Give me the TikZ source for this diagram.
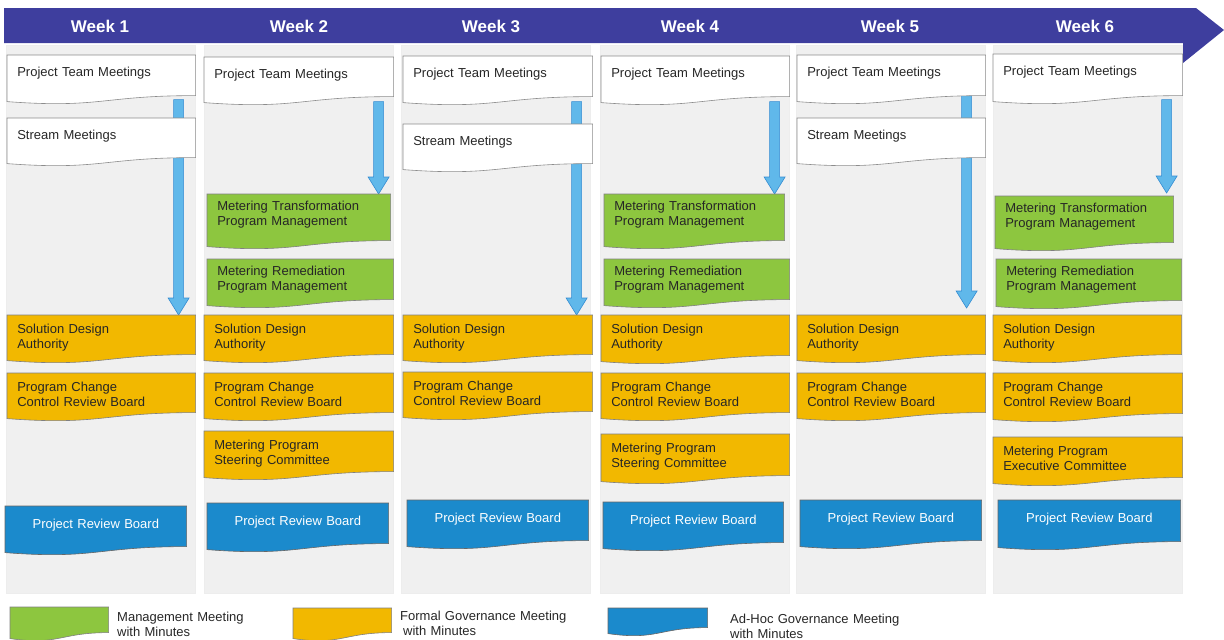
\documentclass[tikz,border=0pt]{standalone}
\usepackage{fontspec}
\setmainfont{Liberation Sans}
\usetikzlibrary{calc}

\definecolor{bannerblue}{RGB}{62,62,158}
\definecolor{colgrey}{RGB}{240,240,240}
\definecolor{mgmtgreen}{RGB}{141,198,63}
\definecolor{formalgold}{RGB}{242,184,0}
\definecolor{adhocblue}{RGB}{27,138,204}
\definecolor{flowblue}{RGB}{96,184,234}
\definecolor{flowedge}{RGB}{52,140,210}

\newcommand{\boxfont}{\fontsize{13}{15}\selectfont}
\newcommand{\weekfont}{\fontsize{17}{20}\selectfont\bfseries}

\pgfdeclarelayer{cols}
\pgfdeclarelayer{flows}
\pgfsetlayers{cols,flows,main}

% flowchart "document" box: rectangle with a wavy bottom edge
\makeatletter
\pgfdeclareshape{document}{
  \inheritsavedanchors[from=rectangle]
  \inheritanchorborder[from=rectangle]
  \inheritanchor[from=rectangle]{center}
  \inheritanchor[from=rectangle]{north}
  \inheritanchor[from=rectangle]{south}
  \inheritanchor[from=rectangle]{east}
  \inheritanchor[from=rectangle]{west}
  \inheritanchor[from=rectangle]{north east}
  \inheritanchor[from=rectangle]{north west}
  \inheritanchor[from=rectangle]{south east}
  \inheritanchor[from=rectangle]{south west}
  \inheritanchor[from=rectangle]{mid}
  \inheritanchor[from=rectangle]{base}
  \backgroundpath{%
    \southwest \edef\doc@xl{\the\pgf@x}\edef\doc@yb{\the\pgf@y}%
    \northeast \edef\doc@xr{\the\pgf@x}\edef\doc@yt{\the\pgf@y}%
    \pgf@xc=\doc@xl \advance\pgf@xc by \doc@xr \divide\pgf@xc by 2
    \edef\doc@xm{\the\pgf@xc}%
    \pgf@yc=\doc@yb \advance\pgf@yc by -13pt \edef\doc@yw{\the\pgf@yc}%
    \pgf@yc=\doc@yb \advance\pgf@yc by -6pt \edef\doc@yl{\the\pgf@yc}%
    \pgfpathmoveto{\pgfqpoint{\doc@xl}{\doc@yt}}%
    \pgfpathlineto{\pgfqpoint{\doc@xr}{\doc@yt}}%
    \pgfpathlineto{\pgfqpoint{\doc@xr}{\doc@yb}}%
    \pgfpathcurveto{\pgfqpoint{\doc@xm}{\doc@yb}}{\pgfqpoint{\doc@xm}{\doc@yw}}{\pgfqpoint{\doc@xl}{\doc@yl}}%
    \pgfpathclose
  }
}
\makeatother

\begin{document}
\begin{tikzpicture}[x=1pt, y=-1pt,
    box top/.initial=18,
    meet/.style={shape=document, anchor=north west, inner xsep=10pt, inner ysep=0pt,
      align=left, font=\boxfont, line width=0.6pt, text=black!85,
      text height=\pgfkeysvalueof{/tikz/box top}pt},
    box w/.code={\pgfmathsetmacro\boxtw{#1-20}\tikzset{minimum width=#1pt, text width/.expanded=\boxtw pt}},
    box h/.code={\pgfmathsetmacro\boxdp{#1-\pgfkeysvalueof{/tikz/box top}}\tikzset{text depth/.expanded=\boxdp pt}},
    plain/.style={meet, box top=21, fill=white, draw=black!45},
    mgmt/.style={meet, box top=16, fill=mgmtgreen, draw=black!50},
    formal/.style={meet, fill=formalgold, draw=black!50},
    adhoc/.style={meet, box top=22, fill=adhocblue, draw=black!60, text=white, align=center},
    week/.style={text=white, font=\weekfont, inner sep=0pt},
    legend/.style={anchor=north west, inner sep=0pt, font=\boxfont, align=left,
      text width=200pt, text height=10pt, text=black!85},
    flow/.style={fill=flowblue, draw=flowedge, line width=0.6pt,
      to path={let \p1=(\tikztostart), \p2=(\tikztotarget) in
        (\x1-5pt,\y1) -- (\x1+5pt,\y1) -- (\x1+5pt,\y2+17pt) -- (\x1+10.5pt,\y2+17pt)
        -- (\x1,\y2) -- (\x1-10.5pt,\y2+17pt) -- (\x1-5pt,\y2+17pt) -- cycle}}]

\useasboundingbox (0,0) rectangle (1224,640);

% one grey column per week
\begin{pgfonlayer}{cols}
\foreach \x in {6,204,401,600,796,993}
  \filldraw[fill=colgrey, draw=black!7] (\x,45) rectangle ++(189,548);
\end{pgfonlayer}

% timeline banner
\fill[bannerblue] (4,8) -- (1196,8) -- (1224,30) -- (1183,63) -- (1183,43) -- (4,43) -- cycle;
\foreach \x/\n in {100/1,299/2,491/3,690/4,890/5,1085/6}
  \node[week] (week\n) at (\x,26) {Week \n};

% week 1
\node[plain, box w=188, box h=40] (ptm1) at (7,55) {Project Team Meetings};
\node[plain, box w=188, box h=39] (sm1) at (7,118) {Stream Meetings};
\node[formal, box w=188, box h=39] (sda1) at (7,315) {Solution Design\\Authority};
\node[formal, box w=188, box h=39] (pcc1) at (7,373) {Program Change\\Control Review Board};
\node[adhoc, box w=181, box h=40] (prb1) at (5,506) {Project Review Board};

% week 2
\node[plain, box w=189, box h=39] (ptm2) at (204,57) {Project Team Meetings};
\node[mgmt, box w=183, box h=46] (mtpm2) at (207,194) {Metering Transformation\\Program Management};
\node[mgmt, box w=186, box h=40] (mrpm2) at (207,259) {Metering Remediation\\Program Management};
\node[formal, box w=189, box h=39] (sda2) at (204,315) {Solution Design\\Authority};
\node[formal, box w=189, box h=39] (pcc2) at (204,373) {Program Change\\Control Review Board};
\node[formal, box w=189, box h=40] (mpsc2) at (204,431) {Metering Program\\Steering Committee};
\node[adhoc, box w=181, box h=40] (prb2) at (207,503) {Project Review Board};

% week 3
\node[plain, box w=189, box h=40] (ptm3) at (403,56) {Project Team Meetings};
\node[plain, box w=189, box h=39] (sm3) at (403,124) {Stream Meetings};
\node[formal, box w=189, box h=39] (sda3) at (403,315) {Solution Design\\Authority};
\node[formal, box w=189, box h=39] (pcc3) at (403,372) {Program Change\\Control Review Board};
\node[adhoc, box w=181, box h=40] (prb3) at (407,500) {Project Review Board};

% week 4
\node[plain, box w=188, box h=40] (ptm4) at (601,56) {Project Team Meetings};
\node[mgmt, box w=180, box h=46] (mtpm4) at (604,194) {Metering Transformation\\Program Management};
\node[mgmt, box w=185, box h=40] (mrpm4) at (604,259) {Metering Remediation\\Program Management};
\node[formal, box w=188, box h=40] (sda4) at (601,315) {Solution Design\\Authority};
\node[formal, box w=188, box h=39] (pcc4) at (601,373) {Program Change\\Control Review Board};
\node[formal, box w=188, box h=41] (mpsc4) at (601,434) {Metering Program\\Steering Committee};
\node[adhoc, box w=180, box h=40] (prb4) at (603,502) {Project Review Board};

% week 5
\node[plain, box w=188, box h=40] (ptm5) at (797,55) {Project Team Meetings};
\node[plain, box w=188, box h=39] (sm5) at (797,118) {Stream Meetings};
\node[formal, box w=188, box h=39] (sda5) at (797,315) {Solution Design\\Authority};
\node[formal, box w=188, box h=39] (pcc5) at (797,373) {Program Change\\Control Review Board};
\node[adhoc, box w=181, box h=40] (prb5) at (800,500) {Project Review Board};

% week 6
\node[plain, box w=189, box h=41] (ptm6) at (993,54) {Project Team Meetings};
\node[mgmt, box w=178, box h=46] (mtpm6) at (995,196) {Metering Transformation\\Program Management};
\node[mgmt, box w=185, box h=41] (mrpm6) at (996,259) {Metering Remediation\\Program Management};
\node[formal, box w=188, box h=39] (sda6) at (993,315) {Solution Design\\Authority};
\node[formal, box w=189, box h=40] (pcc6) at (993,373) {Program Change\\Control Review Board};
\node[formal, box w=189, box h=40] (mpec6) at (993,437) {Metering Program\\Executive Committee};
\node[adhoc, box w=182, box h=41] (prb6) at (998,500) {Project Review Board};

% cascade arrows, behind the boxes
\begin{pgfonlayer}{flows}
\draw[flow] ([xshift=-17pt,yshift=-4pt]ptm1.south east) to (sda1.north);
\draw[flow] ([xshift=-15pt,yshift=-5pt]ptm2.south east) to (mtpm2.north);
\draw[flow] ([xshift=-16pt,yshift=-5pt]ptm3.south east) to (sda3.north);
\draw[flow] ([xshift=-15pt,yshift=-5pt]ptm4.south east) to (mtpm4.north);
\draw[flow] ([xshift=-19pt]ptm5.south east) to ([yshift=7pt]sda5.north);
\draw[flow] ([xshift=-16pt,yshift=-4pt]ptm6.south east) to ([yshift=3pt]mtpm6.north);
\end{pgfonlayer}

% legend
\node[mgmt, box w=98, box h=25] (legmgmt) at (10,607) {};
\node[legend] (legmgmttext) at (117,611) {Management Meeting\\with Minutes};
\node[formal, box w=98, box h=24] (legformal) at (293,608) {};
\node[legend] (legformaltext) at (400,610) {Formal Governance Meeting\\\hspace{3pt}with Minutes};
\node[adhoc, box top=10, box w=99, box h=19] (legadhoc) at (608,608) {};
\node[legend] (legadhoctext) at (730,613) {Ad-Hoc Governance Meeting\\with Minutes};

\end{tikzpicture}
\end{document}
